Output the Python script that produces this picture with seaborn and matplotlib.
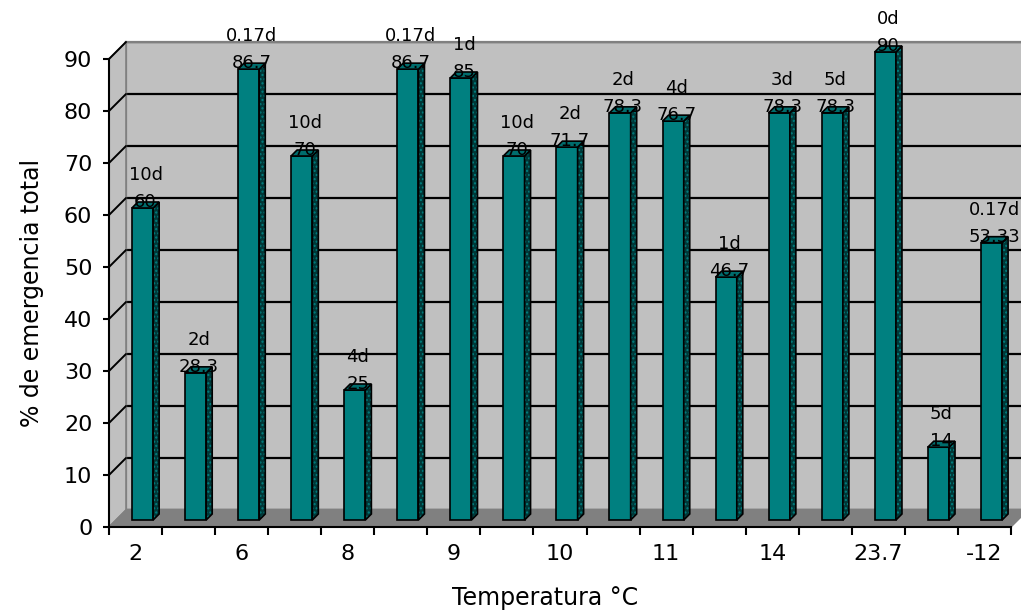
"""Emergencia total por temperatura: barras pseudo-3D al estilo Excel."""

import numpy as np
import pandas as pd
import seaborn as sns
import matplotlib.pyplot as plt
from matplotlib.patches import Polygon
from matplotlib.lines import Line2D
from matplotlib.transforms import IdentityTransform, ScaledTranslation

# data
temperatures = ["2", "6", "8", "9", "10", "11", "14", "23.7", "-12"]
days = ["10d", "2d", "0.17d", "10d", "4d", "0.17d", "1d", "10d", "2d",
        "2d", "4d", "1d", "3d", "5d", "0d", "5d", "0.17d"]
emergence = [60, 28.3, 86.7, 70, 25, 86.7, 85, 70, 71.7,
             78.3, 76.7, 46.7, 78.3, 78.3, 90, 14, 53.33]

W, H, DPI = 1021, 612, 100
DEPTH = 17        # back wall offset, px
BAR_SHIFT = 7     # bars sit part way into the floor, px
BAR_DEPTH = 6     # bar side thickness, px
TEAL = "#008080"

sns.set_theme(style="white")
plt.rcParams["font.family"] = ["DejaVu Sans"]
plt.rcParams["text.color"] = "black"
plt.rcParams["axes.labelcolor"] = "black"
plt.rcParams["xtick.color"] = "black"
plt.rcParams["ytick.color"] = "black"

n = len(emergence)
df = pd.DataFrame({"bar": range(n), "emergence": emergence, "days": days})

fig = plt.figure(figsize=(W / DPI, H / DPI), dpi=DPI)
rect = [109 / W, (H - 527) / H, 902 / W, 468 / H]

# back wall with gridlines
wall = fig.add_axes([rect[0] + DEPTH / W, rect[1] + DEPTH / H, rect[2], rect[3]], zorder=0)
wall.set_facecolor("#c0c0c0")
wall.set_xlim(-0.5, n - 0.5)
wall.set_ylim(0, 90)
wall.set_xticks([])
wall.set_yticks(range(0, 91, 10))
wall.yaxis.grid(True, color="black", lw=1.6)
wall.tick_params(length=0, labelleft=False)
for s in wall.spines.values():
    s.set_color("#808080")
    s.set_linewidth(1.6)

ax = fig.add_axes(rect, zorder=1)
ax.set_facecolor("none")
sns.barplot(data=df, x="bar", y="emergence", ax=ax, color=TEAL, saturation=1,
            width=0.4, edgecolor="black", linewidth=1.2, zorder=2)
ax.set_xlim(-0.5, n - 0.5)
ax.set_ylim(0, 90)


def px(points):
    return ax.transData.transform(points)


d = np.array([DEPTH, DEPTH])
# floor and left side wall, drawn in display pixels
fl, fr = px([(-0.5, 0), (n - 0.5, 0)])
tl = px([(-0.5, 90)])[0]
ax.add_patch(Polygon([fl, fr, fr + d, fl + d], closed=True, transform=IdentityTransform(),
                     facecolor="#808080", edgecolor="#808080", lw=1, zorder=0.5, clip_on=False))
ax.add_patch(Polygon([fl, tl, tl + d, fl + d], closed=True, transform=IdentityTransform(),
                     facecolor="#c0c0c0", edgecolor="#808080", lw=1.2, zorder=0.4, clip_on=False))
for v in range(10, 91, 10):
    p = px([(-0.5, v)])[0]
    ax.add_line(Line2D([p[0], p[0] + DEPTH], [p[1], p[1] + DEPTH], color="black", lw=1.4,
                       transform=IdentityTransform(), zorder=0.6, clip_on=False))

# give the bars their depth
shift = ScaledTranslation(BAR_SHIFT / DPI, BAR_SHIFT / DPI, fig.dpi_scale_trans)
bd = np.array([BAR_DEPTH, BAR_DEPTH])
for patch, lab, val in zip(list(ax.patches)[:n], days, emergence):
    patch.set_transform(ax.transData + shift)
    patch.set_clip_on(False)
    x0 = patch.get_x()
    x1 = x0 + patch.get_width()
    h = patch.get_height()
    p0, p1, p2, p3 = px([(x0, 0), (x1, 0), (x1, h), (x0, h)]) + BAR_SHIFT
    side = [p1, p1 + bd, p2 + bd, p2]
    ax.add_patch(Polygon(side, closed=True, transform=IdentityTransform(), facecolor="#003838",
                         edgecolor=TEAL, hatch="....", lw=0, zorder=2.1, clip_on=False))
    ax.add_patch(Polygon(side, closed=True, transform=IdentityTransform(), fill=False,
                         edgecolor="black", lw=1.2, zorder=2.2, clip_on=False))
    ax.add_patch(Polygon([p3, p2, p2 + bd, p3 + bd], closed=True, transform=IdentityTransform(),
                         facecolor="#006d6d", edgecolor="black", lw=1.2, zorder=2.2, clip_on=False))

    xc = (x0 + x1) / 2
    ax.annotate(f"{val:g}", xy=(xc, h), xytext=(BAR_SHIFT + 3, BAR_SHIFT + 1),
                textcoords="offset pixels", ha="center", va="baseline",
                fontsize=13, color="black", zorder=3, annotation_clip=False)
    ax.annotate(lab, xy=(xc, h), xytext=(BAR_SHIFT + 3, BAR_SHIFT + 28),
                textcoords="offset pixels", ha="center", va="baseline",
                fontsize=13, color="black", zorder=3, annotation_clip=False)

# axes, ticks and labels
for side_name in ["top", "right"]:
    ax.spines[side_name].set_visible(False)
for side_name in ["left", "bottom"]:
    ax.spines[side_name].set_color("black")
    ax.spines[side_name].set_linewidth(1.5)

ax.set_yticks(range(0, 91, 10))
ax.tick_params(axis="y", length=4, width=1.5, color="black", direction="out",
               left=True, labelsize=16, labelcolor="black", pad=8)
ax.set_xticks(np.arange(-0.5, n, 1))
ax.set_xticklabels([])
ax.set_xticks(range(0, n, 2), minor=True)
ax.set_xticklabels(temperatures, minor=True)
ax.tick_params(axis="x", which="major", length=6, width=1.5, color="black",
               direction="out", bottom=True)
ax.tick_params(axis="x", which="minor", length=0, labelsize=16, labelcolor="black", pad=12)

ax.set_ylabel("% de emergencia total", fontsize=17, labelpad=14)
ax.set_xlabel("Temperatura °C", fontsize=17)
ax.xaxis.set_label_coords(0.483, -0.125)

fig.savefig("out.png", dpi=DPI)
